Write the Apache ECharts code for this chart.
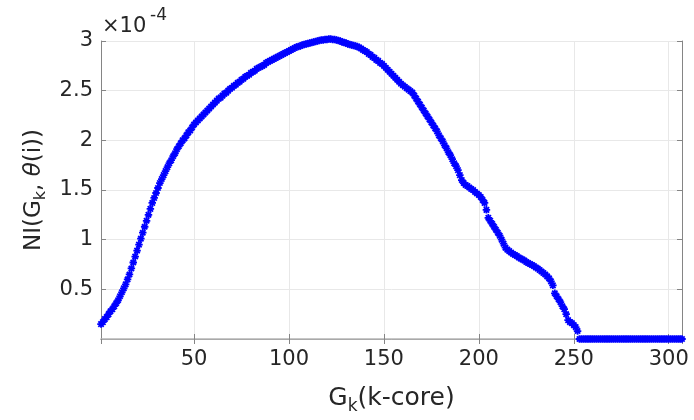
<!DOCTYPE html>
<html>
<head>
<meta charset="utf-8">
<script src="https://cdn.jsdelivr.net/npm/echarts@6/dist/echarts.min.js"></script>
<style>
html,body{margin:0;padding:0;background:#fff;}
#chart{width:694px;height:420px;}
</style>
</head>
<body>
<div id="chart"></div>
<script>
// NI values (in units of 1e-4) for k-core index k = 1 .. 307
const niValues = [
  0.15,0.17,0.20,0.22,0.25,0.28,0.30,0.33,0.36,0.39,
  0.43,0.47,0.51,0.55,0.60,0.65,0.71,0.77,0.83,0.89,
  0.95,1.01,1.07,1.13,1.19,1.25,1.31,1.37,1.42,1.47,
  1.52,1.57,1.61,1.65,1.69,1.73,1.77,1.80,1.84,1.87,
  1.91,1.94,1.97,2.00,2.02,2.05,2.08,2.10,2.13,2.16,
  2.18,2.20,2.22,2.24,2.26,2.28,2.30,2.32,2.34,2.36,
  2.38,2.40,2.42,2.43,2.45,2.47,2.48,2.50,2.52,2.53,
  2.55,2.56,2.58,2.59,2.61,2.62,2.64,2.65,2.66,2.68,
  2.69,2.70,2.72,2.73,2.74,2.75,2.76,2.78,2.79,2.80,
  2.81,2.82,2.83,2.84,2.85,2.86,2.87,2.88,2.89,2.90,
  2.91,2.92,2.93,2.94,2.945,2.95,2.96,2.965,2.97,2.975,
  2.98,2.985,2.99,2.995,3.00,3.005,3.01,3.01,3.015,3.015,
  3.02,3.02,3.015,3.015,3.01,3.005,3.00,2.99,2.985,2.98,
  2.97,2.965,2.96,2.955,2.95,2.945,2.935,2.925,2.91,2.90,
  2.89,2.87,2.86,2.84,2.83,2.81,2.80,2.78,2.77,2.75,
  2.73,2.71,2.69,2.67,2.65,2.63,2.61,2.59,2.57,2.555,
  2.54,2.525,2.51,2.495,2.48,2.45,2.42,2.39,2.36,2.33,
  2.30,2.27,2.24,2.21,2.18,2.15,2.12,2.09,2.05,2.02,
  1.99,1.95,1.92,1.88,1.85,1.81,1.77,1.74,1.70,1.65,
  1.60,1.57,1.55,1.54,1.525,1.51,1.50,1.48,1.465,1.45,
  1.43,1.40,1.37,1.30,1.22,1.19,1.16,1.13,1.10,1.07,
  1.04,1.00,0.96,0.92,0.90,0.885,0.87,0.855,0.845,0.835,
  0.82,0.81,0.80,0.79,0.775,0.765,0.755,0.745,0.735,0.72,
  0.71,0.695,0.68,0.665,0.65,0.63,0.61,0.58,0.54,0.46,
  0.43,0.40,0.37,0.33,0.30,0.25,0.19,0.17,0.16,0.14,
  0.12,0.08,
  0,0,0,0,0,0,0,0,0,0,
  0,0,0,0,0,0,0,0,0,0,
  0,0,0,0,0,0,0,0,0,0,
  0,0,0,0,0,0,0,0,0,0,
  0,0,0,0,0,0,0,0,0,0,
  0,0,0,0,0
];
const kFirst = 1;
const kLast = 307;
const xTickLabels = [50, 100, 150, 200, 250, 300];
const yTickLabels = [0.5, 1, 1.5, 2, 2.5, 3];

const points = niValues.map((v, i) => [kFirst + i, v]);

const FONT = 'DejaVu Sans';
const TXT = '#262626';
const AX = '#858585';
const GRID = '#e8e8e8';
const star = 'path://M3.8 0H6.2V10H3.8Z M0 3.8H10V6.2H0Z M0.6 2.3L2.3 0.6L9.4 7.7L7.7 9.4Z M7.7 0.6L9.4 2.3L2.3 9.4L0.6 7.7Z';

const chart = echarts.init(document.getElementById('chart'), null, {renderer: 'canvas'});
chart.setOption({
  animation: false,
  backgroundColor: '#ffffff',
  grid: {left: 101, right: 12, top: 41, bottom: 80},
  graphic: [
    {type: 'text', left: 102, top: 16, style: {text: '×10', fontFamily: FONT, fontSize: 21, fill: TXT}},
    {type: 'text', left: 150, top: 7, style: {text: '-4', fontFamily: FONT, fontSize: 17, fill: TXT}}
  ],
  xAxis: [
    {
      type: 'value', min: kFirst, max: kLast, position: 'bottom',
      axisLine: {lineStyle: {color: AX, width: 1}},
      axisTick: {inside: true, length: 5, lineStyle: {color: AX}},
      axisLabel: {
        showMinLabel: false, showMaxLabel: false, margin: 10,
        color: TXT, fontFamily: FONT, fontSize: 21,
        formatter: v => xTickLabels.indexOf(v) >= 0 ? String(v) : ''
      },
      splitLine: {show: true, lineStyle: {color: GRID, width: 1}},
      name: '{a|G}{s|k}{a|(k-core)}',
      nameLocation: 'middle', nameGap: 43,
      nameTextStyle: {
        color: TXT, fontFamily: FONT, fontSize: 25,
        rich: {
          a: {color: TXT, fontFamily: FONT, fontSize: 25},
          s: {color: TXT, fontFamily: FONT, fontSize: 17, padding: [16, 0, 0, 0]}
        }
      }
    },
    {
      type: 'value', min: kFirst, max: kLast, position: 'top',
      axisLine: {show: true, lineStyle: {color: '#b5b5b5', width: 1.5}},
      axisTick: {show: true, inside: true, length: 5, lineStyle: {color: AX}},
      axisLabel: {show: false},
      splitLine: {show: false}
    }
  ],
  yAxis: [
    {
      type: 'value', min: 0, max: 3, interval: 0.5, position: 'left',
      axisLine: {show: true, lineStyle: {color: AX, width: 1}},
      axisTick: {show: true, inside: true, length: 5, lineStyle: {color: AX}},
      axisLabel: {
        showMinLabel: false, margin: 8,
        color: TXT, fontFamily: FONT, fontSize: 21,
        formatter: v => yTickLabels.indexOf(v) >= 0 ? String(v) : ''
      },
      splitLine: {show: true, lineStyle: {color: GRID, width: 1}},
      name: '{a|NI(G}{s|k}{a|, }{t|θ}{a|(i))}',
      nameLocation: 'middle', nameRotate: 90, nameGap: 52,
      nameTextStyle: {
        color: TXT, fontFamily: FONT, fontSize: 23,
        rich: {
          a: {color: TXT, fontFamily: FONT, fontSize: 23},
          t: {color: TXT, fontFamily: FONT, fontSize: 23, fontStyle: 'italic'},
          s: {color: TXT, fontFamily: FONT, fontSize: 16, padding: [14, 0, 0, 0]}
        }
      }
    },
    {
      type: 'value', min: 0, max: 3, interval: 0.5, position: 'right',
      axisLine: {show: true, lineStyle: {color: AX, width: 1}},
      axisTick: {show: true, inside: true, length: 5, lineStyle: {color: AX}},
      axisLabel: {show: false},
      splitLine: {show: false}
    }
  ],
  series: [
    {
      type: 'scatter',
      xAxisIndex: 0, yAxisIndex: 0,
      data: points,
      symbol: star,
      symbolSize: 7.5,
      clip: false,
      itemStyle: {color: '#0000ff', opacity: 1},
      silent: true
    }
  ]
});
</script>
</body>
</html>
